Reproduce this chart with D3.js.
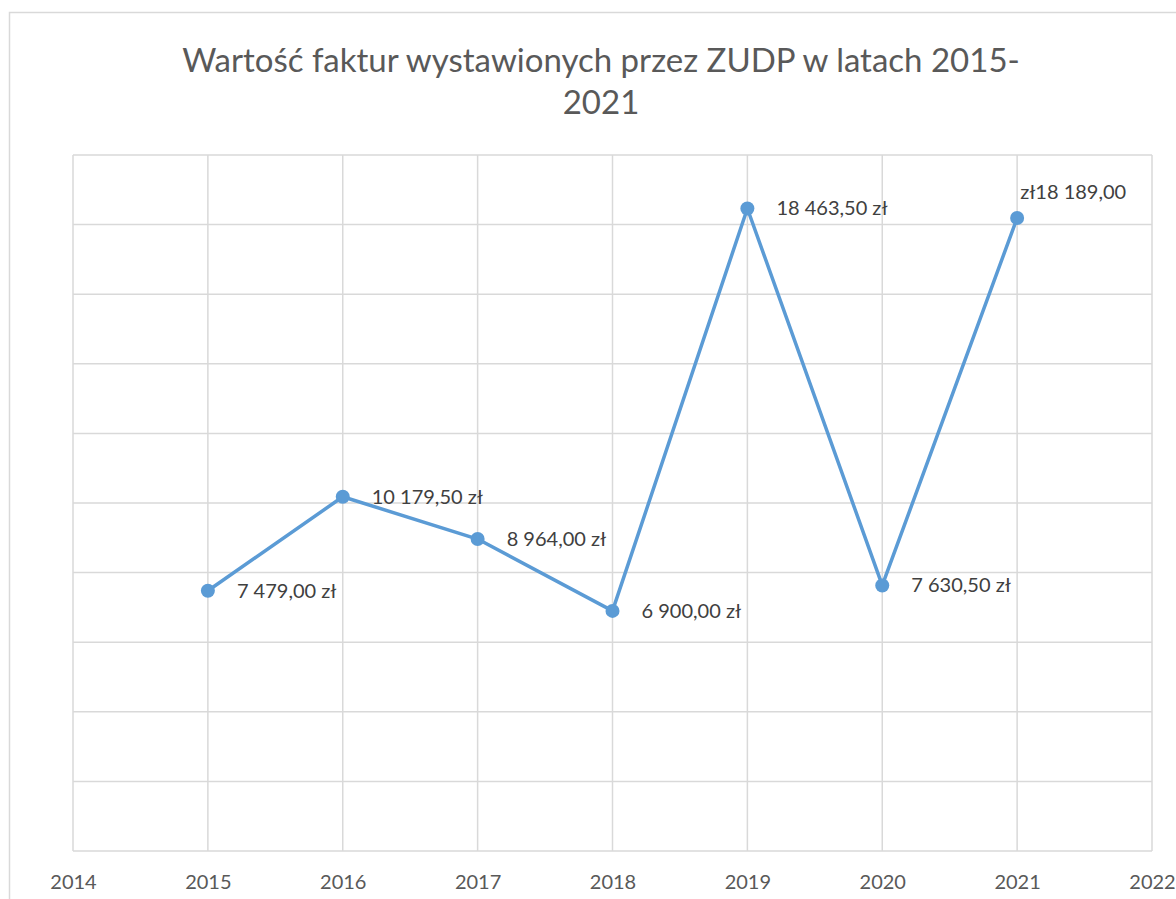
<!DOCTYPE html>
<html><head><meta charset="utf-8">
<script src="https://cdn.jsdelivr.net/npm/d3@7"></script>
<style>body{margin:0;background:#fff}svg{display:block}</style>
</head><body>
<script>
const years = [2015, 2016, 2017, 2018, 2019, 2020, 2021];
const values = [7479, 10179.5, 8964, 6900, 18463.5, 7630.5, 18189];
const labels = ["7 479,00 zł", "10 179,50 zł", "8 964,00 zł", "6 900,00 zł", "18 463,50 zł", "7 630,50 zł", "zł18 189,00"];
const xTicks = [2014, 2015, 2016, 2017, 2018, 2019, 2020, 2021, 2022];
const yTicks = [0, 2000, 4000, 6000, 8000, 10000, 12000, 14000, 16000, 18000, 20000];
const titleLines = ["Wartość faktur wystawionych przez ZUDP w latach 2015-", "2021"];

const W = 1176, H = 899;
const svg = d3.select("body").append("svg").attr("width", W).attr("height", H);
const font = "Lato, 'Open Sans', sans-serif";

svg.append("rect").attr("x", 9.5).attr("y", 12.5).attr("width", W).attr("height", H)
  .attr("fill", "#fff").attr("stroke", "#d9d9d9").attr("stroke-width", 1.5);

const x = d3.scaleLinear().domain([2014, 2022]).range([73, 1152]);
const y = d3.scaleLinear().domain([0, 20000]).range([851, 155]);

const grid = svg.append("g");
grid.selectAll(".h").data(yTicks).join("line")
  .attr("x1", x(2014)).attr("x2", x(2022))
  .attr("y1", d => y(d)).attr("y2", d => y(d))
  .attr("stroke", "#d9d9d9").attr("stroke-width", 1.5);
grid.selectAll(".v").data(xTicks).join("line")
  .attr("x1", d => x(d)).attr("x2", d => x(d))
  .attr("y1", y(0)).attr("y2", y(20000))
  .attr("stroke", "#d9d9d9").attr("stroke-width", 1.5);

const xAxis = d3.axisBottom(x).tickValues(xTicks).tickFormat(d3.format("d")).tickSize(0).tickPadding(24);
const ga = svg.append("g").attr("transform", `translate(0,${y(0)})`).call(xAxis);
ga.select(".domain").remove();
ga.selectAll("text").attr("font-family", font).attr("font-size", 20).attr("fill", "#595959");

svg.append("g").selectAll("text").data(titleLines).join("text")
  .attr("x", 601).attr("y", (d, i) => 72 + i * 42)
  .attr("text-anchor", "middle").attr("font-family", font).attr("font-size", 33)
  .attr("fill", "#595959").text(d => d);

const data = years.map((yr, i) => ({yr, v: values[i], l: labels[i]}));
svg.append("path").datum(data)
  .attr("d", d3.line().x(d => x(d.yr)).y(d => y(d.v)))
  .attr("fill", "none").attr("stroke", "#5b9bd5").attr("stroke-width", 3.5).attr("stroke-linejoin", "round");
svg.append("g").selectAll("circle").data(data).join("circle")
  .attr("cx", d => x(d.yr)).attr("cy", d => y(d.v)).attr("r", 7).attr("fill", "#5b9bd5");

svg.append("g").selectAll("text").data(data).join("text")
  .attr("x", (d, i) => x(d.yr) + (i === 6 ? 3 : 29))
  .attr("y", (d, i) => y(d.v) + (i === 6 ? -26 : 0))
  .attr("dy", "0.35em")
  .attr("font-family", font).attr("font-size", 20).attr("fill", "#404040")
  .text(d => d.l);
</script>
</body></html>
